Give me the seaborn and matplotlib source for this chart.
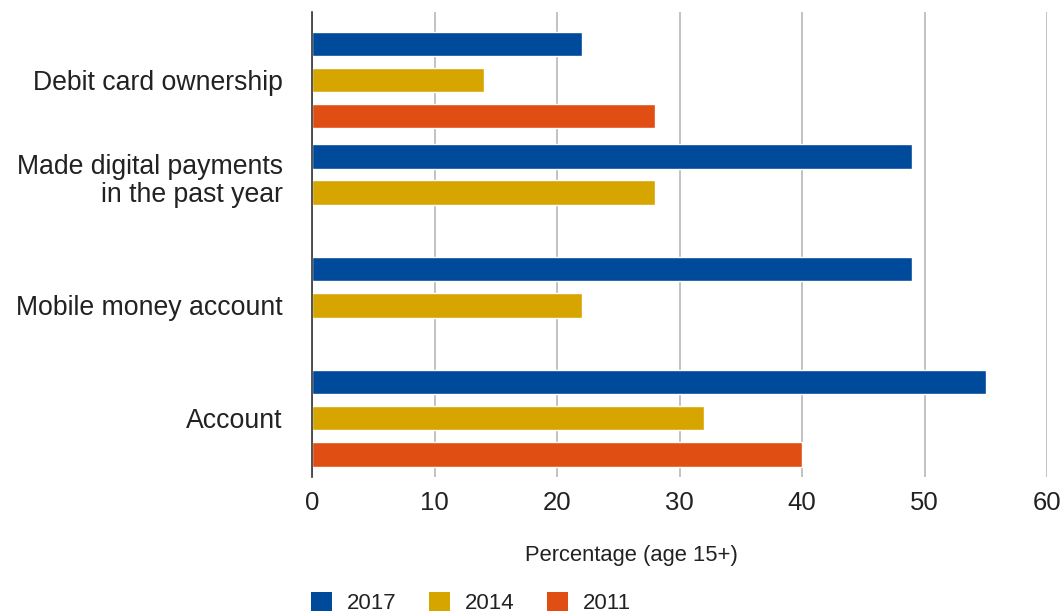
import matplotlib
matplotlib.use("Agg")
import matplotlib.pyplot as plt
import matplotlib.transforms as mtransforms
from matplotlib.patches import Patch
import numpy as np
import pandas as pd
import seaborn as sns

categories = [
    "Debit card ownership",
    "Made digital payments\nin the past year",
    "Mobile money account",
    "Account",
]
years = ["2017", "2014", "2011"]
values_2017 = [22, 49, 49, 55]
values_2014 = [14, 28, 22, 32]
values_2011 = [28, np.nan, np.nan, 40]
colors = ["#004A9B", "#D6A500", "#E04E14"]
x_ticks = [0, 10, 20, 30, 40, 50, 60]

rows = []
for year, vals in zip(years, [values_2017, values_2014, values_2011]):
    for cat, v in zip(categories, vals):
        rows.append({"indicator": cat, "year": year, "value": v})
df = pd.DataFrame(rows)

sns.set_theme(style="white")
plt.rcParams["font.family"] = ["Liberation Sans", "DejaVu Sans"]

fig = plt.figure(figsize=(10.64, 6.15), dpi=100)
ax = fig.add_axes([312 / 1064, 1 - 477 / 615, 735 / 1064, 465 / 615])

sns.barplot(
    data=df, y="indicator", x="value", hue="year",
    order=categories, hue_order=years, palette=colors,
    orient="y", width=0.96, gap=0.33, saturation=1, ax=ax,
    legend=False,
)

ax.set_xlim(0, 60)
ax.set_ylim(3.52, -0.60)
ax.set_xticks(x_ticks)
ax.set_xticklabels([str(t) for t in x_ticks])
ax.xaxis.grid(True, color="#BDBDBD", linewidth=1.3)
ax.yaxis.grid(False)
ax.set_axisbelow(True)

for side in ["top", "right", "bottom"]:
    ax.spines[side].set_visible(False)
ax.spines["left"].set_color("#333333")
ax.spines["left"].set_linewidth(1.2)

ax.tick_params(axis="x", length=0, pad=10, labelsize=18.5, labelcolor="#222222")
ax.tick_params(axis="y", length=0, pad=21, labelsize=19.2, labelcolor="#222222")

ax.set_ylabel("")
ax.set_xlabel("Percentage (age 15+)", fontsize=15.8, color="#222222")
ax.xaxis.set_label_coords((631 - 312) / 735, -(545 - 477) / 465)
ax.xaxis.label.set_va("top")

# nudge the two-line label up so it sits beside its two bars
lbl = ax.get_yticklabels()[1]
lbl.set_linespacing(1.1)
lbl.set_transform(lbl.get_transform() + mtransforms.ScaledTranslation(0, 16 / 100, fig.dpi_scale_trans))

handles = [Patch(facecolor=c, edgecolor="none") for c in colors]
fig.legend(
    handles, years, loc="center left",
    bbox_to_anchor=(311 / 1064, 1 - 603 / 615),
    ncol=3, frameon=False, fontsize=16,
    borderpad=0, borderaxespad=0,
    handlelength=0.95, handleheight=0.95, handletextpad=0.68, columnspacing=1.44,
    labelcolor="#222222",
)

fig.savefig("out.png", dpi=100)
